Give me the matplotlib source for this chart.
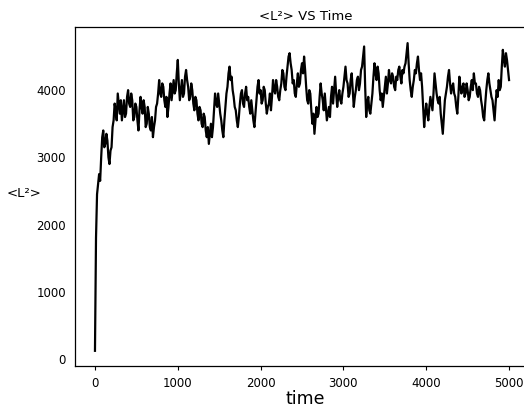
import numpy as np
import matplotlib
matplotlib.use("Agg")
import matplotlib.pyplot as plt

# time grid (step 12.5) and <L^2> values
time = np.arange(0, 5000.1, 12.5)
l2 = [
    120, 1800, 2450, 2600, 2750, 2650, 3000, 3300, 3400, 3150,
    3200, 3350, 3250, 3000, 2900, 3100, 3150, 3450, 3550, 3800,
    3700, 3550, 3950, 3800, 3650, 3850, 3550, 3700, 3850, 3600,
    3650, 3900, 4000, 3800, 3750, 3950, 3850, 3550, 3600, 3800,
    3750, 3550, 3400, 3700, 3900, 3750, 3650, 3850, 3750, 3450,
    3500, 3750, 3650, 3450, 3400, 3600, 3300, 3450, 3550, 3750,
    3800, 3950, 4150, 3950, 3900, 4100, 4050, 3850, 3750, 3900,
    3600, 3750, 3950, 4100, 3850, 4000, 4150, 3950, 4000, 4250,
    4450, 4100, 3850, 4000, 4150, 3900, 3950, 4200, 4300, 4150,
    4050, 3850, 3900, 4100, 4000, 3800, 3700, 3900, 3850, 3650,
    3550, 3750, 3700, 3500, 3450, 3650, 3600, 3400, 3300, 3450,
    3200, 3350, 3500, 3300, 3450, 3700, 3950, 3800, 3750, 3950,
    3800, 3650, 3550, 3400, 3300, 3550, 3750, 3950, 4050, 4250,
    4350, 4150, 4200, 4000, 3900, 3750, 3700, 3550, 3450, 3600,
    3800, 3950, 4000, 3800, 3750, 3950, 4050, 3850, 3900, 3750,
    3650, 3850, 3700, 3550, 3450, 3650, 3850, 4050, 4150, 3950,
    4000, 3800, 3850, 4050, 4000, 3800, 3650, 3750, 3800, 3950,
    3700, 3900, 4150, 4000, 3950, 4150, 4050, 3900, 3850, 4000,
    4100, 4300, 4250, 4050, 4000, 4200, 4350, 4500, 4550, 4400,
    4300, 4100, 4150, 3950, 3900, 4100, 4250, 4050, 4100, 4300,
    4400, 4250, 4500, 4300, 4050, 3850, 3800, 4000, 3950, 3700,
    3500, 3650, 3350, 3550, 3750, 3600, 3650, 3900, 4100, 3950,
    3850, 3700, 3950, 3750, 3550, 3650, 3750, 3600, 3900, 4050,
    3800, 4000, 4200, 3950, 3750, 3900, 4000, 3850, 3800, 3950,
    4050, 4200, 4350, 4150, 4100, 3900, 3950, 4150, 4250, 4000,
    3750, 3900, 4000, 4150, 4200, 4000, 4100, 4300, 4350, 4500,
    4650, 4050, 3600, 3800, 3900, 3700, 3650, 3800, 3950, 4200,
    4400, 4250, 4150, 4350, 4250, 4000, 3850, 3950, 3750, 3900,
    4050, 4200, 3950, 4100, 4300, 4150, 4100, 4250, 4200, 4050,
    4000, 4200, 4150, 4300, 4350, 4200, 4100, 4300, 4250, 4350,
    4400, 4550, 4700, 4400, 4150, 4000, 3900, 4050, 4150, 4300,
    4250, 4400, 4500, 4300, 4150, 4250, 4050, 3750, 3450, 3650,
    3800, 3650, 3550, 3750, 3900, 3800, 3700, 3950, 4250, 4100,
    3950, 3850, 3800, 3900, 3650, 3500, 3350, 3600, 3850, 3950,
    4050, 4200, 4300, 4100, 3950, 4050, 4100, 3950, 3900, 3750,
    3650, 3900, 4200, 4050, 3950, 4050, 4100, 3900, 3950, 4100,
    4000, 3850, 3900, 4050, 4150, 4000, 4250, 4100, 4100, 3950,
    3900, 4050, 4000, 3850, 3750, 3600, 3550, 3800, 4000, 4150,
    4250, 4100, 4000, 3900, 3850, 3700, 3550, 3800, 4000, 3900,
    4150, 4000, 4050, 4350, 4600, 4450, 4350, 4550, 4450, 4300,
    4150,
]
xticks = [0, 1000, 2000, 3000, 4000, 5000]
yticks = [0, 1000, 2000, 3000, 4000]

fig = plt.figure(figsize=(5.24, 4.12), dpi=100)
# axes run past the right edge, like the cropped reference
ax = fig.add_axes([0.143, 0.112, 0.88, 0.822])

ax.plot(time, l2, color='black', linewidth=1.6)

ax.set_xlim(-242, 5326)
ax.set_ylim(-104, 4937)
ax.set_xticks(xticks)
ax.set_yticks(yticks)
ax.tick_params(axis='x', labelsize=8.5, length=3, width=0.8, pad=5)
ax.tick_params(axis='y', labelsize=8.5, length=0, pad=6.5)

for s in ax.spines.values():
    s.set_linewidth(0.9)
ax.spines['right'].set_visible(False)

ax.set_title('<L²> VS Time', fontsize=9.5, pad=5)
ax.set_xlabel('time', fontsize=12.5, labelpad=0)
ax.set_ylabel('<L²>', fontsize=9.5, rotation=0)
ax.yaxis.set_label_coords(-0.11, 0.49)

fig.savefig('out.png', dpi=100)
